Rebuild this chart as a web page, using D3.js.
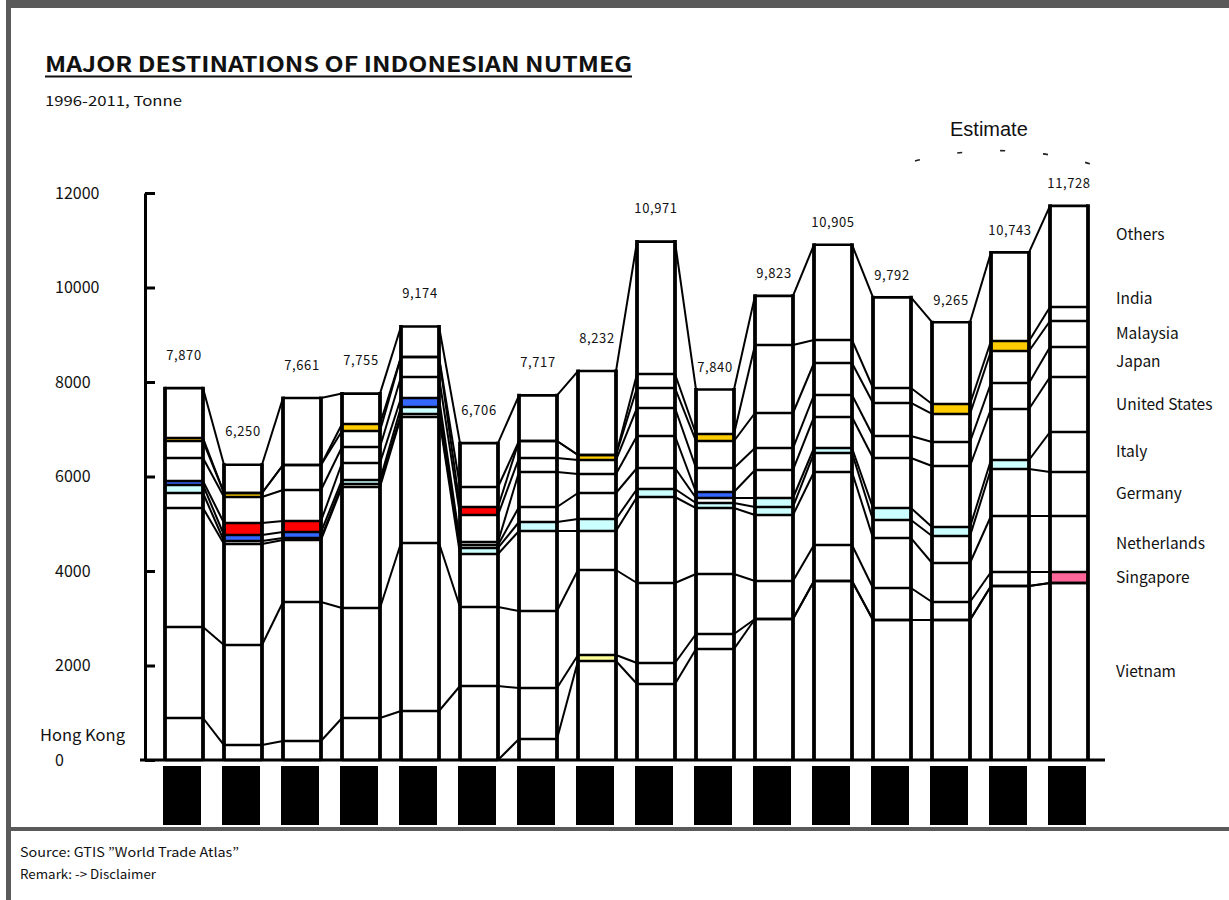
<!DOCTYPE html>
<html>
<head>
	<meta charset="utf-8">
	<title>Major destinations of Indonesian nutmeg</title>
	<script src="https://cdn.jsdelivr.net/npm/d3@7"></script>
	<style>
		body { margin: 0; background: #fff; }
		text { font-family: "Noto Sans CJK JP", "Noto Sans", sans-serif; fill: #111; }
	</style>
</head>
<body>
<script>
	// data, tonne
	var years = [1996, 1997, 1998, 1999, 2000, 2001, 2002, 2003, 2004, 2005, 2006, 2007, 2008, 2009, 2010, 2011];
	var totals = [7870, 6250, 7661, 7755, 9174, 6706, 7717, 8232, 10971, 7840, 9823, 10905, 9792, 9265, 10743, 11728];

	var vietnam      = [0, 0, 0, 0, 0, 0, 444, 2095, 1608, 2349, 2984, 3788, 2963, 2963, 3683, 3746];
	var hongKong     = [889, 317, 402, 889, 1037, 1566, 1080, 127, 445, 318, 0, 0, 0, 0, 0, 0];
	var singapore    = [1926, 2117, 2942, 2328, 3556, 1672, 1629, 1799, 1693, 1270, 804, 762, 677, 381, 296, 233];
	var netherlands  = [2518, 2137, 1312, 2561, 2667, 1122, 1694, 826, 1820, 1396, 1397, 1545, 1058, 825, 1185, 1185];
	var germany      = [318, 64, 42, 63, 63, 127, 190, 254, 169, 106, 170, 402, 381, 572, 995, 931];
	var italy        = [169, 127, 127, 85, 148, 63, 318, 550, 445, 106, 190, 106, 254, 190, 190, 847];
	var unitedStates = [85, 254, 233, 360, 191, 64, 740, 402, 677, 127, 593, 657, 1059, 1291, 1080, 1164];
	var japan        = [487, 550, 656, 339, 444, 571, 297, 296, 593, 508, 465, 465, 465, 508, 550, 635];
	var malaysia     = [359, 85, 529, 338, 423, 170, 359, 106, 423, 571, 741, 677, 699, 593, 677, 550];
	var india        = [64, 0, 0, 148, 0, 423, 0, 0, 296, 148, 1439, 487, 317, 211, 212, 296];

	var yTicks = [0, 2000, 4000, 6000, 8000, 10000, 12000];

	// segments that are coloured in the original
	var highlights = [
		[1996, "Italy", "cyan"], [1996, "United States", "blue"], [1996, "India", "orange"],
		[1997, "Italy", "blue"], [1997, "United States", "red"], [1997, "Malaysia", "orange"],
		[1998, "Italy", "blue"], [1998, "United States", "red"],
		[1999, "Italy", "cyan"], [1999, "India", "orange"],
		[2000, "Italy", "cyan"], [2000, "United States", "blue"],
		[2001, "Germany", "cyan"], [2001, "Malaysia", "red"],
		[2002, "Germany", "cyan"],
		[2003, "Hong Kong", "paleYellow"], [2003, "Germany", "cyan"], [2003, "Malaysia", "orange"],
		[2004, "Germany", "cyan"],
		[2005, "Germany", "cyan"], [2005, "United States", "blue"], [2005, "India", "orange"],
		[2006, "Germany", "cyan"], [2006, "Italy", "cyan"],
		[2007, "Italy", "cyan"],
		[2008, "Italy", "cyan"],
		[2009, "Italy", "cyan"], [2009, "India", "orange"],
		[2010, "Italy", "cyan"], [2010, "India", "orange"],
		[2011, "Singapore", "pink"]
	];
	var fills = { cyan: "#ccffff", blue: "#3366ff", orange: "#ffcc00", red: "#ff0000", paleYellow: "#ffff99", pink: "#ff6699" };

	var keys = ["Vietnam", "Hong Kong", "Singapore", "Netherlands", "Germany", "Italy",
		"United States", "Japan", "Malaysia", "India", "Others"];
	var columns = [vietnam, hongKong, singapore, netherlands, germany, italy, unitedStates, japan, malaysia, india];

	var table = years.map(function(yr, i) {
		var row = { year: yr }, known = 0;
		columns.forEach(function(col, k) { row[keys[k]] = col[i]; known += col[i]; });
		row["Others"] = totals[i] - known;
		return row;
	});
	var stacked = d3.stack().keys(keys)(table);

	function fillOf(year, key) {
		var h = highlights.find(function(d) { return d[0] === year && d[1] === key; });
		return h ? fills[h[2]] : "#fff";
	}

	var svgWidth = 1229, svgHeight = 900;
	var svg = d3.select("body").append("svg")
		.attr("width", svgWidth)
		.attr("height", svgHeight);

	// frame
	svg.append("rect").attr("x", 6).attr("y", 0).attr("width", svgWidth - 6).attr("height", 8).attr("fill", "#5a5a5a");
	svg.append("rect").attr("x", 6).attr("y", 0).attr("width", 5).attr("height", svgHeight).attr("fill", "#5a5a5a");
	svg.append("rect").attr("x", 6).attr("y", 827).attr("width", svgWidth - 6).attr("height", 4).attr("fill", "#5a5a5a");

	// titles
	svg.append("text").attr("x", 45).attr("y", 72)
		.attr("textLength", 587).attr("lengthAdjust", "spacingAndGlyphs")
		.style("font-size", "21px").style("font-weight", "bold")
		.text("MAJOR DESTINATIONS OF INDONESIAN NUTMEG");
	svg.append("line").attr("x1", 45).attr("x2", 632).attr("y1", 76.5).attr("y2", 76.5)
		.attr("stroke", "#111").attr("stroke-width", 2);
	svg.append("text").attr("x", 45).attr("y", 106)
		.attr("textLength", 137).attr("lengthAdjust", "spacingAndGlyphs")
		.style("font-size", "13.5px").text("1996-2011, Tonne");

	svg.append("text").attr("x", 950).attr("y", 136)
		.style("font-family", "'Liberation Sans', Arial, sans-serif").style("font-size", "20px")
		.text("Estimate");
	svg.append("path").attr("d", "M915,161 Q1005,138 1098,166")
		.attr("fill", "none").attr("stroke", "#222").attr("stroke-width", 1.6)
		.attr("stroke-dasharray", "5 38");

	// scales
	var x = d3.scaleBand().domain(years).range([145, 1108]).paddingInner(0.356).paddingOuter(0.339);
	var y = d3.scaleLinear().domain([0, 12000]).range([760, 193]);
	var bw = x.bandwidth();

	// y axis, ticks pointing inward
	var yAxis = svg.append("g").attr("transform", "translate(145,0)")
		.call(d3.axisRight(y).tickValues(yTicks).tickSize(10).tickSizeOuter(0).tickFormat(""));
	yAxis.selectAll("path, line").attr("stroke", "#000").attr("stroke-width", 3);

	svg.selectAll(".ylab").data(yTicks).enter().append("text")
		.attr("class", "ylab")
		.attr("x", 55).attr("y", function(d) { return y(d); })
		.attr("dy", "0.36em")
		.style("font-size", "16px")
		.text(function(d) { return d; });

	// black year boxes under the axis
	svg.selectAll(".yearbox").data(years).enter().append("rect")
		.attr("class", "yearbox")
		.attr("x", function(d) { return x(d) - 2; })
		.attr("y", 766).attr("width", bw).attr("height", 59)
		.attr("fill", "#000");

	// segments
	var layer = svg.selectAll(".layer").data(stacked).enter().append("g").attr("class", "layer");
	layer.selectAll("rect").data(function(s) { return s.map(function(d) { return { key: s.key, d: d }; }); })
		.enter().append("rect")
		.attr("x", function(p) { return x(p.d.data.year); })
		.attr("y", function(p) { return y(p.d[1]); })
		.attr("width", bw)
		.attr("height", function(p) { return y(p.d[0]) - y(p.d[1]); })
		.attr("fill", function(p) { return fillOf(p.d.data.year, p.key); });

	// series lines between neighbouring bars
	stacked.forEach(function(s) {
		var segs = d3.pairs(s);
		svg.append("g").selectAll("line").data(segs).enter().append("line")
			.attr("x1", function(p) { return x(p[0].data.year) + bw; })
			.attr("y1", function(p) { return y(p[0][1]); })
			.attr("x2", function(p) { return x(p[1].data.year); })
			.attr("y2", function(p) { return y(p[1][1]); })
			.attr("stroke", "#000").attr("stroke-width", 2);
	});

	// boundaries inside each bar
	stacked.forEach(function(s) {
		svg.append("g").selectAll("line").data(s).enter().append("line")
			.attr("x1", function(d) { return x(d.data.year); })
			.attr("x2", function(d) { return x(d.data.year) + bw; })
			.attr("y1", function(d) { return y(d[1]); })
			.attr("y2", function(d) { return y(d[1]); })
			.attr("stroke", "#000").attr("stroke-width", 2.6);
	});

	// bar sides
	var sides = svg.append("g");
	table.forEach(function(row, i) {
		[x(row.year), x(row.year) + bw].forEach(function(px) {
			sides.append("line")
				.attr("x1", px).attr("x2", px)
				.attr("y1", y(totals[i]) - 1.5).attr("y2", y(0))
				.attr("stroke", "#000").attr("stroke-width", 3.8);
		});
	});

	// x axis line
	svg.append("line").attr("x1", 140).attr("x2", 1105).attr("y1", y(0)).attr("y2", y(0))
		.attr("stroke", "#000").attr("stroke-width", 3);

	// totals above bars
	svg.selectAll(".total").data(table).enter().append("text")
		.attr("class", "total")
		.attr("x", function(d) { return x(d.year) + bw / 2; })
		.attr("y", function(d, i) { return y(totals[i]) - (i < 9 ? 33 : 22); })
		.attr("dy", "0.35em")
		.attr("text-anchor", "middle")
		.style("font-size", "13px")
		.style("letter-spacing", "0.6px")
		.text(function(d, i) { return d3.format(",")(totals[i]); });

	// country labels next to the last bar
	var last = years.length - 1;
	var nudge = { "Others": -22, "India": -15 };
	stacked.filter(function(s) { return s[last][1] - s[last][0] > 0; }).forEach(function(s) {
		var d = s[last];
		svg.append("text")
			.attr("x", 1116)
			.attr("y", (y(d[0]) + y(d[1])) / 2 + (nudge[s.key] || 0))
			.attr("dy", "0.35em")
			.style("font-size", "15.5px")
			.text(s.key);
	});
	var hk = stacked[keys.indexOf("Hong Kong")][0];
	svg.append("text").attr("x", 40).attr("y", (y(hk[0]) + y(hk[1])) / 2 - 4)
		.attr("dy", "0.35em").style("font-size", "16.5px").text("Hong Kong");

	// footer
	svg.append("text").attr("x", 20).attr("y", 857)
		.attr("textLength", 219).attr("lengthAdjust", "spacingAndGlyphs")
		.style("font-size", "12.5px").text("Source: GTIS \u201DWorld Trade Atlas\u201D");
	svg.append("text").attr("x", 20).attr("y", 879)
		.attr("textLength", 136).attr("lengthAdjust", "spacingAndGlyphs")
		.style("font-size", "12.5px").text("Remark: -> Disclaimer");
</script>
</body>
</html>
